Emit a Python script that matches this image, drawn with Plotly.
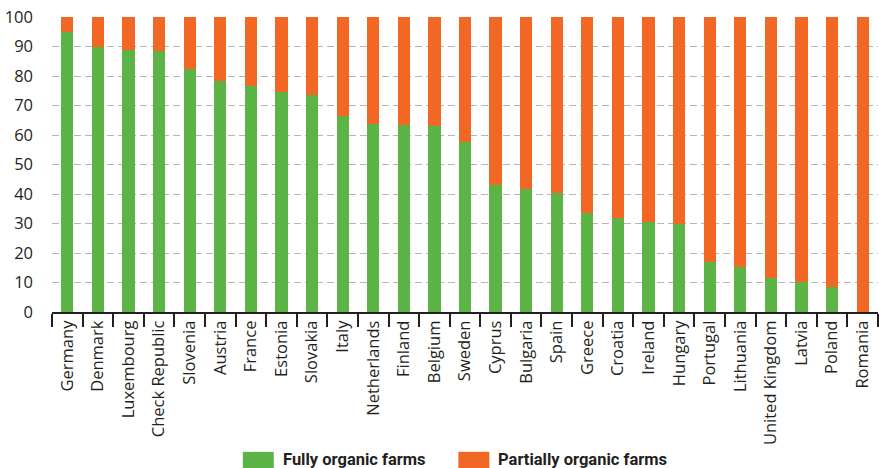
import plotly.graph_objects as go

countries = ["Germany", "Denmark", "Luxembourg", "Check Republic", "Slovenia", "Austria",
             "France", "Estonia", "Slovakia", "Italy", "Netherlands", "Finland", "Belgium",
             "Sweden", "Cyprus", "Bulgaria", "Spain", "Greece", "Croatia", "Ireland",
             "Hungary", "Portugal", "Lithuania", "United Kingdom", "Latvia", "Poland", "Romania"]
fully = [94.9, 89.8, 88.8, 88.4, 82.3, 78.3, 76.5, 74.5, 73.4, 66.3, 63.9, 63.3, 63.2,
         57.5, 43.1, 41.8, 40.3, 33.7, 31.7, 30.4, 29.8, 17.1, 15.2, 11.4, 10.3, 8.4, 0.0]
partially = [round(100 - v, 1) for v in fully]
y_ticks = [0, 10, 20, 30, 40, 50, 60, 70, 80, 90, 100]

GREEN = "#5db446"
ORANGE = "#f26724"
TXT = "#231f20"
FONT = "Open Sans"

fig = go.Figure()
fig.add_trace(go.Bar(x=countries, y=fully, name="Fully organic farms",
                     marker=dict(color=GREEN, line=dict(width=0))))
fig.add_trace(go.Bar(x=countries, y=partially, name="Partially organic farms",
                     marker=dict(color=ORANGE, line=dict(width=0))))

fig.update_layout(
    barmode="stack",
    bargap=0.6,
    width=879, height=468,
    margin=dict(l=52, r=1, t=17, b=156, autoexpand=False),
    plot_bgcolor="white", paper_bgcolor="white",
    showlegend=False,
    font=dict(family=FONT, color=TXT, size=15),
)
fig.update_xaxes(
    type="category", range=[-0.5, 26.5], automargin=False,
    showline=True, linecolor=TXT, linewidth=2,
    ticks="outside", tickson="boundaries", ticklen=13, tickwidth=2, tickcolor=TXT,
    tickangle=-90, tickfont=dict(family=FONT, size=16.5, color=TXT),
    showgrid=False,
)
fig.update_yaxes(
    range=[0, 100], tickvals=y_ticks, ticktext=[str(v) for v in y_ticks],
    showline=False, zeroline=False, automargin=False,
    showgrid=True, gridcolor="#b5b5b5", gridwidth=1.2, griddash="7px,4px",
    ticks="", ticklabelstandoff=18,
    tickfont=dict(family=FONT, size=16.5, color=TXT),
)

# legend drawn at bottom
legend_items = [("Fully organic farms", GREEN, 0.231), ("Partially organic farms", ORANGE, 0.492)]
for label, col, x0 in legend_items:
    fig.add_shape(type="rect", xref="paper", yref="paper",
                  x0=x0, x1=x0 + 0.0375, y0=-0.54, y1=-0.474,
                  fillcolor=col, line=dict(width=0))
    fig.add_annotation(xref="paper", yref="paper", x=x0 + 0.046, y=-0.5,
                       xanchor="left", yanchor="middle", showarrow=False,
                       text=label,
                       font=dict(family="Roboto", size=16.5, color=TXT, weight=700))

fig.write_html("out.html", config={"displayModeBar": False})
with open("out.html", "r", encoding="utf-8") as f:
    html = f.read()
html = html.replace("<head>", "<head><style>html,body{margin:0;padding:0;overflow:hidden;}</style>", 1)
with open("out.html", "w", encoding="utf-8") as f:
    f.write(html)
